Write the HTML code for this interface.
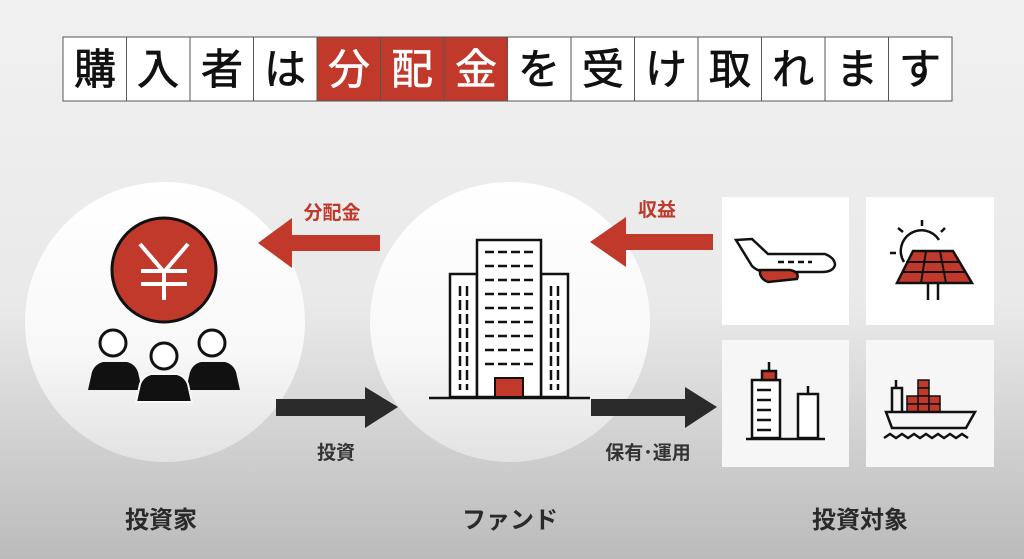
<!DOCTYPE html>
<html><head><meta charset="utf-8"><style>
html,body{margin:0;padding:0;width:1024px;height:559px;overflow:hidden}
svg{display:block}
text{font-family:"Liberation Sans","Noto Sans CJK JP",sans-serif}
</style></head><body>
<svg width="1024" height="559" viewBox="0 0 1024 559" xmlns="http://www.w3.org/2000/svg">
<defs>
<linearGradient id="bg" x1="0" y1="0" x2="0" y2="1">
<stop offset="0" stop-color="#f1f1f1"/><stop offset="0.55" stop-color="#e9e9e9"/><stop offset="1" stop-color="#bbbbbb"/>
</linearGradient>
<linearGradient id="cg" x1="0" y1="0" x2="0" y2="1">
<stop offset="0" stop-color="#ffffff"/><stop offset="0.6" stop-color="#f8f8f8"/><stop offset="1" stop-color="#e2e2e2"/>
</linearGradient>
</defs>
<rect width="1024" height="559" fill="url(#bg)"/>
<!-- title boxes -->
<g font-size="42" text-anchor="middle">
<g stroke="#555" stroke-width="1">
<rect x="63" y="37" width="63.5" height="64" fill="#fff"/>
<rect x="126.5" y="37" width="63.5" height="64" fill="#fff"/>
<rect x="190" y="37" width="63.5" height="64" fill="#fff"/>
<rect x="253.5" y="37" width="63.5" height="64" fill="#fff"/>
<rect x="317" y="37" width="63.5" height="64" fill="#c0392b"/>
<rect x="380.5" y="37" width="63.5" height="64" fill="#c0392b"/>
<rect x="444" y="37" width="63.5" height="64" fill="#c0392b"/>
<rect x="507.5" y="37" width="63.5" height="64" fill="#fff"/>
<rect x="571" y="37" width="63.5" height="64" fill="#fff"/>
<rect x="634.5" y="37" width="63.5" height="64" fill="#fff"/>
<rect x="698" y="37" width="63.5" height="64" fill="#fff"/>
<rect x="761.5" y="37" width="63.5" height="64" fill="#fff"/>
<rect x="825" y="37" width="63.5" height="64" fill="#fff"/>
<rect x="888.5" y="37" width="63.5" height="64" fill="#fff"/>
</g>
<g fill="#111" stroke="#111" stroke-width="0.8">
<text x="95" y="84">購</text>
<text x="158" y="84">入</text>
<text x="222" y="84">者</text>
<text x="285" y="84">は</text>
<text x="539" y="84">を</text>
<text x="603" y="84">受</text>
<text x="666" y="84">け</text>
<text x="730" y="84">取</text>
<text x="793" y="84">れ</text>
<text x="857" y="84">ま</text>
<text x="920" y="84">す</text>
</g>
<g fill="#fff" stroke="#fff" stroke-width="0.6">
<text x="349" y="84">分</text>
<text x="412" y="84">配</text>
<text x="476" y="84">金</text>
</g>
</g>
<!-- circles -->
<circle cx="165" cy="322" r="140" fill="url(#cg)"/>
<circle cx="510" cy="322" r="140" fill="url(#cg)"/>
<!-- tiles -->
<rect x="722" y="197" width="127" height="128" fill="#fff"/>
<rect x="866" y="197" width="128" height="128" fill="#fff"/>
<rect x="722" y="340" width="127" height="127" fill="#f6f6f6"/>
<rect x="866" y="340" width="128" height="127" fill="#f6f6f6"/>
<!-- arrows -->
<polygon points="380,235 292,235 292,218 258,243 292,268 292,251 380,251" fill="#c0392b"/>
<polygon points="713,234 626,234 626,217 590,242 626,267 626,250 713,250" fill="#c0392b"/>
<polygon points="276,399 365,399 365,387 398,407 365,428 365,416 276,416" fill="#2a2a2a"/>
<polygon points="591,399 685,399 685,387 717,407 685,428 685,416 591,416" fill="#2a2a2a"/>
<g font-weight="bold" font-size="19" text-anchor="middle">
<text x="332" y="219" fill="#c0392b">分配金</text>
<text x="657" y="216" fill="#c0392b">収益</text>
<text x="336" y="459" fill="#333">投資</text>
<text x="648" y="459" fill="#333">保有･運用</text>
</g>
<g font-weight="bold" font-size="24" text-anchor="middle" fill="#2a2a2a">
<text x="161" y="528">投資家</text>
<text x="510" y="528">ファンド</text>
<text x="860" y="528">投資対象</text>
</g>
<!-- yen -->
<circle cx="164" cy="270" r="52" fill="#c0392b" stroke="#111" stroke-width="3"/>
<g stroke="#fff" stroke-width="4" fill="none">
<polyline points="140,244 164,272 188,244"/>
<line x1="164" y1="272" x2="164" y2="300"/><line x1="141" y1="271" x2="187" y2="271"/><line x1="141" y1="284" x2="187" y2="284"/>
</g>
<!-- people -->
<g fill="#111">
<path d="M88,390 L92,372 Q95,364 103,362 L127,362 Q135,364 138,372 L142,390 Z"/>
<path d="M186,390 L190,372 Q193,364 201,362 L225,362 Q233,364 236,372 L240,390 Z"/>
<path d="M136,402 L140,384 Q143,376 151,374 L177,374 Q185,376 188,384 L192,402 Z" stroke="#fafafa" stroke-width="2"/>
</g>
<g fill="#fff" stroke="#111" stroke-width="3">
<circle cx="113" cy="343" r="13"/><circle cx="212" cy="343" r="13"/><circle cx="164" cy="356" r="13"/>
</g>
<!-- building -->
<g stroke="#111" stroke-width="2.5" fill="#fff">
<rect x="450" y="274" width="27" height="123"/>
<rect x="541" y="274" width="27" height="123"/>
<rect x="477" y="240" width="64" height="157"/>
</g>
<rect x="495" y="378" width="28" height="19" fill="#c0392b" stroke="#111" stroke-width="2"/>
<line x1="429" y1="398" x2="590" y2="398" stroke="#111" stroke-width="2.5"/>
<g stroke="#111" stroke-width="2.5" stroke-dasharray="9,4">
<line x1="485" y1="252" x2="535" y2="252"/><line x1="485" y1="266" x2="535" y2="266"/><line x1="485" y1="280" x2="535" y2="280"/>
<line x1="485" y1="294" x2="535" y2="294"/><line x1="485" y1="308" x2="535" y2="308"/><line x1="485" y1="322" x2="535" y2="322"/>
<line x1="485" y1="336" x2="535" y2="336"/><line x1="485" y1="350" x2="535" y2="350"/><line x1="485" y1="364" x2="535" y2="364"/>
</g>
<g stroke="#111" stroke-width="2.5" stroke-dasharray="10,4">
<line x1="460" y1="286" x2="460" y2="390"/><line x1="467" y1="286" x2="467" y2="390"/>
<line x1="551" y1="286" x2="551" y2="390"/><line x1="558" y1="286" x2="558" y2="390"/>
</g>
<!-- plane -->
<g stroke="#111" stroke-width="2.5" fill="#fff">
<path d="M736,240 L752,239 L768,254 L825,254 Q835,258 835,265 Q833,272 822,272 L768,272 Q758,272 752,266 Z"/>
<path d="M760,270 L790,270 Q800,272 797,279 L768,282 Q762,280 760,274 Z" fill="#c0392b"/>
</g>
<g stroke="#111" stroke-width="2.5" stroke-dasharray="6,4"><line x1="778" y1="262" x2="812" y2="262"/></g>
<!-- solar -->
<g stroke="#111" stroke-width="2.5" fill="none">
<path d="M904,262 A20,20 0 1 1 939,240"/>
<line x1="922" y1="220" x2="922" y2="226"/><line x1="903" y1="232" x2="898" y2="228"/><line x1="941" y1="232" x2="945" y2="228"/><line x1="890" y1="253" x2="896" y2="253"/>
<line x1="928" y1="284" x2="928" y2="300"/><line x1="938" y1="284" x2="938" y2="300"/>
</g>
<path d="M913,251 L953,251 L972,283 L897,283 Z" fill="#c0392b" stroke="#111" stroke-width="2.5"/>
<g stroke="#111" stroke-width="2">
<line x1="906" y1="262" x2="960" y2="262"/><line x1="902" y1="272" x2="966" y2="272"/>
<line x1="926" y1="251" x2="921" y2="283"/><line x1="940" y1="251" x2="946" y2="283"/>
</g>
<!-- city -->
<g stroke="#111" stroke-width="2.5" fill="#fff">
<rect x="752" y="380" width="28" height="58"/>
<rect x="798" y="394" width="20" height="44"/>
<rect x="762" y="371" width="14" height="9" fill="#c0392b"/>
</g>
<g stroke="#111" stroke-width="2.5">
<line x1="746" y1="439" x2="825" y2="439"/><line x1="769" y1="362" x2="769" y2="371"/><line x1="808" y1="386" x2="808" y2="394"/>
<line x1="757" y1="390" x2="771" y2="390"/><line x1="757" y1="400" x2="771" y2="400"/><line x1="757" y1="410" x2="771" y2="410"/><line x1="757" y1="420" x2="771" y2="420"/><line x1="757" y1="430" x2="771" y2="430"/>
</g>
<!-- ship -->
<g fill="#c0392b" stroke="#111" stroke-width="1.5">
<rect x="918" y="380" width="11" height="8"/><rect x="918" y="388" width="11" height="8"/><rect x="918" y="396" width="11" height="8"/><rect x="918" y="404" width="11" height="8"/>
<rect x="907" y="396" width="11" height="8"/><rect x="907" y="404" width="11" height="8"/>
<rect x="929" y="396" width="11" height="8"/><rect x="929" y="404" width="11" height="8"/>
</g>
<g stroke="#111" stroke-width="2.5" fill="none">
<path d="M886,412 L975,412 L966,428 L892,428 Z"/>
<path d="M892,412 L892,388 L902,388 L902,412"/><line x1="896" y1="380" x2="896" y2="388"/>
<polyline points="884,438 890,434 896,438 902,434 908,438 914,434 920,438 926,434 932,438 938,434 944,438 950,434 956,438 962,434 968,438"/>
</g>
</svg>
</body></html>
